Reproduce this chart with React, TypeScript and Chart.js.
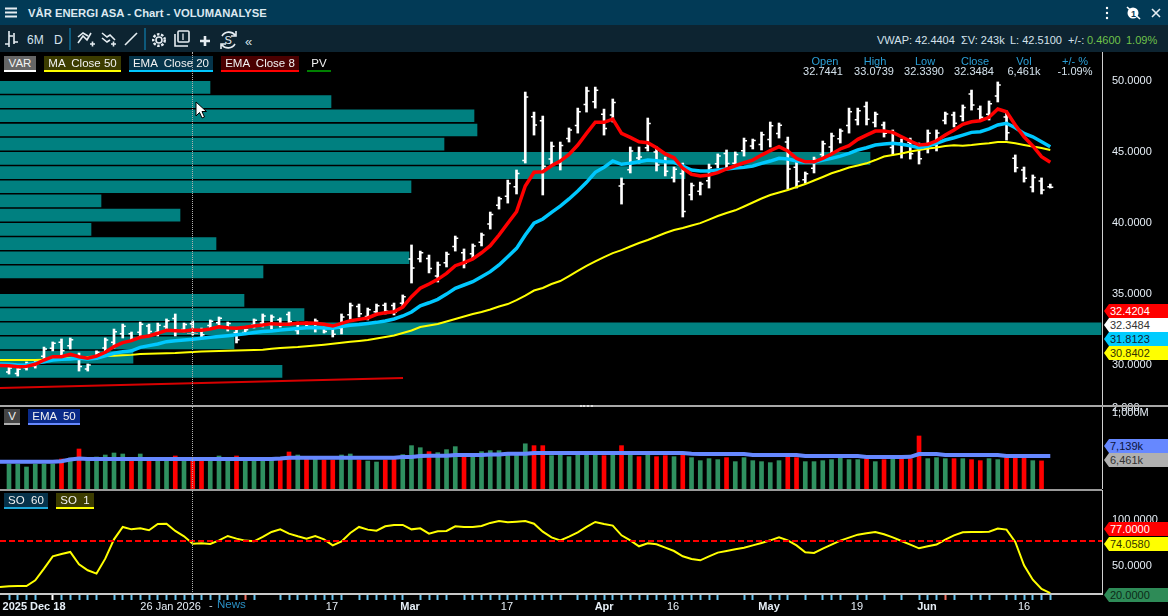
import React, { useEffect, useRef } from "react";
import Chart from "chart.js/auto";

const highs = [29.85,29.78,30.21,30.35,31.26,31.62,31.83,31.90,30.84,30.07,30.99,31.90,32.53,32.88,32.32,33.02,32.88,32.95,33.24,33.59,32.95,33.10,32.60,33.17,33.38,33.02,32.46,32.53,33.24,33.59,33.52,33.31,33.73,33.02,33.02,33.24,32.67,32.74,33.59,34.36,34.29,34.01,34.29,34.36,34.36,34.93,38.45,38.02,37.74,37.25,37.95,39.08,38.17,38.52,39.29,40.77,41.83,43.02,43.73,49.22,47.81,47.53,45.70,45.70,46.69,48.09,49.57,49.57,48.02,48.73,43.17,45.35,45.35,47.39,45.35,44.64,43.94,44.22,42.81,42.88,44.15,44.86,45.14,45.00,45.98,45.91,46.40,47.11,47.04,46.05,44.29,43.59,44.64,45.77,46.33,46.62,48.09,48.09,48.52,47.81,47.11,46.55,45.91,45.98,45.63,46.55,46.55,47.81,47.81,48.31,49.36,48.24,48.59,49.93,47.88,44.79,43.94,43.38,43.17,42.74];
const lows = [29.36,29.22,29.64,29.78,30.35,30.99,30.70,31.12,29.57,29.57,30.42,30.91,31.19,31.90,31.69,31.97,32.18,32.04,32.46,32.04,32.32,32.11,31.97,32.60,32.81,32.39,31.55,32.18,32.60,32.67,32.53,32.67,32.81,32.18,32.60,32.32,32.25,31.97,32.18,33.17,33.38,33.17,33.52,33.59,33.52,34.08,35.77,37.25,36.48,35.84,36.90,38.02,36.83,37.53,38.38,39.57,40.98,41.40,42.04,44.22,46.19,41.97,44.08,43.73,45.70,46.33,47.81,48.09,46.19,47.11,41.33,43.52,44.22,45.07,43.66,43.31,42.88,40.42,41.62,41.97,42.46,43.87,43.87,43.87,44.71,45.21,45.14,45.35,45.98,42.39,42.46,42.81,43.52,44.43,44.93,45.63,46.33,46.90,46.90,46.76,46.05,44.79,44.57,44.50,44.15,44.93,45.07,46.97,46.76,47.18,47.95,47.18,47.25,48.52,45.84,43.59,42.88,42.18,42.04,42.46];
const opens = [29.5,29.4,29.8,29.95,30.62,31.18,31.6,31.35,30.6,29.72,30.6,31.2,31.6,32.2,32.2,32.3,32.74,32.3,32.7,33.28,32.5,32.9,32.47,32.77,32.98,32.58,32.28,32.28,32.79,32.95,32.83,33.18,33.55,32.43,32.94,32.6,32.59,32.59,32.6,33.53,34.11,33.42,33.75,34.21,34.19,34.34,37.46,37.48,37.49,36.26,37.2,38.34,37.9,37.83,38.65,39.93,41.24,41.89,42.55,44.4,47.48,47.2,44.5,44.2,45.95,46.86,48.34,48.53,47.65,47.6,42.6,43.75,44.57,45.3,45.0,44.38,43.2,43.46,41.98,42.24,42.97,44.17,44.89,44.21,45.09,45.42,45.52,45.88,46.3,45.7,43.92,43.04,43.86,44.83,45.35,45.93,46.86,47.26,48.2,47.07,46.9,45.32,45.64,45.68,45.33,45.42,45.51,47.22,47.6,47.52,49.08,48.03,47.65,48.94,47.47,44.55,43.73,42.54,42.95,42.55];
const closes = [29.78,29.7,30.1,30.26,31.12,31.52,31.0,31.78,29.9,30.0,30.9,31.75,32.33,32.73,31.85,32.86,32.35,32.8,33.12,32.43,32.85,32.36,32.13,33.08,33.29,32.92,31.78,32.48,33.14,33.45,33.37,32.83,33.04,32.89,32.71,33.1,32.36,32.16,33.38,34.18,33.61,33.88,34.17,33.78,33.73,34.8,36.83,37.9,36.8,37.04,37.8,38.92,37.17,38.37,39.15,40.59,41.7,42.78,43.48,48.87,46.9,44.0,45.4,45.45,46.54,47.83,49.3,49.35,46.65,48.48,42.75,45.07,44.64,47.0,44.08,43.64,43.78,40.8,42.63,42.74,43.9,44.71,44.19,44.83,45.79,45.8,46.21,46.85,46.88,43.8,42.92,43.47,44.47,45.57,46.12,46.47,47.83,47.91,47.3,47.65,46.32,46.29,44.91,44.87,44.52,46.31,46.33,47.68,47.02,48.14,48.3,47.45,48.39,49.72,46.35,43.89,43.15,43.2,42.32,42.51];

const ema8 = [29.95,29.88,29.90,30.05,30.35,30.58,30.58,30.75,30.58,30.47,30.63,30.89,31.29,31.57,31.71,31.95,32.04,32.23,32.44,32.41,32.39,32.46,32.44,32.53,32.69,32.62,32.58,32.65,32.74,32.81,32.91,32.86,32.86,32.93,32.95,32.93,32.86,32.74,32.93,33.12,33.21,33.31,33.57,33.68,33.75,34.08,34.81,35.40,35.70,36.03,36.45,36.99,37.20,37.46,37.90,38.40,39.15,39.98,40.79,42.60,43.57,43.61,44.03,44.36,44.83,45.49,46.31,47.09,47.09,47.32,46.31,46.03,45.72,45.65,45.30,44.86,44.59,43.85,43.43,43.31,43.38,43.54,43.80,44.03,44.24,44.43,44.78,45.09,45.37,45.07,44.55,44.31,44.31,44.55,44.86,45.21,45.44,45.89,46.19,46.47,46.47,46.38,46.07,45.77,45.49,45.54,45.79,46.19,46.55,46.95,47.13,47.20,47.44,48.02,47.83,46.90,46.07,45.42,44.67,44.27];
const ema20 = [30.05,30.0,30.0,30.12,30.23,30.35,30.40,30.42,30.47,30.42,30.47,30.65,30.82,30.93,31.0,31.24,31.36,31.48,31.64,31.71,31.76,31.81,31.88,31.95,32.0,32.06,32.12,32.19,32.28,32.35,32.39,32.46,32.52,32.57,32.62,32.63,32.60,32.58,32.71,32.80,32.85,32.92,33.0,33.10,33.24,33.45,33.73,34.17,34.38,34.62,34.99,35.40,35.63,35.86,36.21,36.57,37.04,37.62,38.21,39.15,39.98,40.28,40.75,41.19,41.69,42.25,42.86,43.57,43.92,44.36,44.13,44.20,44.31,44.43,44.38,44.31,44.27,44.01,43.73,43.66,43.66,43.73,43.80,43.87,43.92,44.01,44.20,44.36,44.55,44.50,44.36,44.27,44.27,44.43,44.55,44.71,44.90,45.14,45.30,45.49,45.56,45.61,45.54,45.44,45.30,45.42,45.61,45.84,46.0,46.19,46.38,46.43,46.62,46.90,47.02,46.71,46.31,46.07,45.72,45.37];
const ma50 = [30.35,30.35,30.35,30.35,30.37,30.40,30.45,30.49,30.52,30.56,30.60,30.63,30.64,30.68,30.71,30.77,30.79,30.81,30.83,30.84,30.87,30.91,30.95,30.97,30.98,31.0,31.02,31.03,31.05,31.07,31.14,31.19,31.23,31.26,31.32,31.37,31.43,31.49,31.56,31.63,31.69,31.76,31.86,31.97,32.07,32.25,32.43,32.67,32.78,32.88,33.06,33.24,33.41,33.59,33.73,33.91,34.12,34.29,34.57,34.89,35.24,35.42,35.70,35.91,36.26,36.62,36.97,37.29,37.60,37.88,38.09,38.34,38.59,38.80,39.05,39.29,39.50,39.64,39.82,39.99,40.24,40.49,40.70,40.89,41.16,41.44,41.72,41.97,42.14,42.32,42.53,42.74,42.99,43.24,43.50,43.69,43.90,44.05,44.20,44.43,44.68,44.79,44.89,45.03,45.14,45.24,45.31,45.42,45.47,45.44,45.49,45.56,45.61,45.70,45.70,45.61,45.49,45.38,45.28,45.14];

const profileLevels = [49.55,48.55,47.55,46.55,45.55,44.55,43.55,42.55,41.55,40.55,39.55,38.55,37.55,36.55,34.55,33.55,32.55,31.55,30.55,29.55];
const profileVolumes = [210,331,474,477,444,870,685,411,101,180,91,216,409,263,244,304,1101,234,133,282];

const trendX = [-1.03, 45.03];
const trendY = [28.38, 29.08];

const volumes = [5750,5750,5060,5750,5750,5750,6900,7130,9200,6670,7360,7820,8280,8050,6670,8050,6670,6670,6670,7590,6670,6670,6670,6670,7590,6670,7590,6670,6670,6670,6670,6670,8510,7820,7130,6900,6670,6670,7820,8050,6670,6440,6210,6670,7130,7900,9970,9500,8590,8360,9050,9740,7900,7900,8590,8820,8820,8130,7900,10400,9970,9970,7670,8130,7440,8280,8280,8280,7670,8280,9970,8280,7440,8280,7440,7670,7440,8280,7210,6520,6980,6750,7210,6290,7210,6520,6290,6060,6520,7440,7210,6290,6290,6520,6750,7210,6750,6750,6980,6290,6750,6980,6980,6980,12190,6980,7210,6980,6980,6980,6750,6520,6980,6750,7210,7440,7210,6520,6461];
const volumeDirections = ("ggggggrgrgggggrgrggrgrrgggrggggrrgrgrrggrggrr" + "gggrgggrgggggggrrggggggrgrgrgrrgrggggr" + "ggggggrrgggggggrgrgrrrgggrgrrggrrrgr").split("");
const volumeEma = [6280,6280,6280,6280,6280,6280,6400,6800,7000,6900,6900,6900,6900,6900,6900,6900,6900,6900,6900,6900,6900,6900,6900,6900,6900,6900,6900,6900,6900,6900,6900,7000,7200,7200,7200,7200,7200,7200,7200,7200,7200,7200,7200,7200,7200,7360,7360,7590,7660,7660,7660,7820,7820,7820,7820,7950,7950,8120,8120,8120,8280,8280,8280,8280,8280,8280,8280,8280,8280,8280,8280,8280,8280,8280,8280,8280,8280,8280,8120,8050,8050,8050,8050,8050,8050,7820,7820,7820,7820,7820,7820,7590,7590,7590,7590,7590,7590,7590,7360,7360,7360,7360,7360,7400,8050,8050,8050,7820,7820,7820,7820,7820,7820,7820,7590,7590,7590,7590,7590,7590];

const so1 = [28.3,28.6,28.6,34.7,47.3,60.5,63,65.2,51.9,45.5,41.9,58,78.8,92.1,89.5,90.6,88.5,95.3,95.6,87.8,82,74.1,74.5,73.8,77.7,82.4,79.5,77.4,76.6,81.3,86.7,89.5,84.9,82,79.5,82.4,78.8,72.3,76.6,85.6,92.1,89.2,88.1,92.8,94.2,94.2,89.5,90.6,84.9,87.4,87.8,92.8,92.1,92.1,93.1,96.4,98.5,97.1,97.8,98.5,95.6,87,80.9,77.7,81.7,86.3,92.1,97.4,95.3,93.5,83.1,77.7,71.3,74.5,73.4,69.8,66.2,60.5,57.6,56.2,60.5,64.5,66.2,68,69.8,72.3,74.8,77.7,80.9,77.7,72.3,64.8,64.1,68.8,73.1,77.4,80.6,83.8,85.2,86.7,84.2,80.9,77,73.1,69.1,71.3,73.1,78.4,83.1,86.3,86.7,86.7,87,90.3,89.2,75.9,50.8,35.4,25.4,21];
const soLevel = 77;

const leadIn = { ema8: 29.97, ema20: 30.07, ma50: 30.35, volumeEma: 6280, so1: 27.6 };

const priceTicks = [30, 35, 40, 45, 50];
const soTicks = [50, 100];
const tickGaps = [4,11,29,30,39,46,51,64,82,83,86,90,92,96,99,101,103,109,113];
const whiteTicks = [5];
const redTicks = [27, 107];
const dateLabelAt = [2.86,18.47,36.91,45.83,56.91,68.01,75.89,86.86,96.91,104.91,116.01];
const dateLabels = ["2025 Dec 18","26 Jan 2026","17","Mar","17","Apr","16","May","19","Jun","16"];
const boldLabels = ["2025 Dec 18","Mar","Apr","May","Jun"];

const X_MIN = -1.029;
const X_MAX = 124.91;
const FONT = '"Liberation Sans", Arial, sans-serif';

const slots = highs.map((_, i) => i);

const ohlcTicks = {
  id: "ohlcTicks",
  beforeDatasetsDraw(chart: any) {
    const { ctx, scales } = chart;
    ctx.save();
    ctx.strokeStyle = "#ffffff";
    ctx.lineWidth = 1.5;
    slots.forEach((i) => {
      const x = scales.x.getPixelForValue(i);
      const yo = scales.y.getPixelForValue(opens[i]);
      const yc = scales.y.getPixelForValue(closes[i]);
      ctx.beginPath();
      ctx.moveTo(x - 3, yo);
      ctx.lineTo(x, yo);
      ctx.moveTo(x, yc);
      ctx.lineTo(x + 3, yc);
      ctx.stroke();
    });
    ctx.restore();
  },
};

const hiddenX = { type: "linear", display: false, offset: false, min: X_MIN, max: X_MAX, grid: { display: false, offset: false } };
const noPlugins = { legend: { display: false }, tooltip: { enabled: false } };
const fitAxis = (scale: any) => {
  scale.width = 66;
  scale.paddingTop = 0;
  scale.paddingBottom = 0;
};

function line(values: number[], lead: number, color: string, width: number, order = 1) {
  return {
    type: "line",
    data: [{ x: X_MIN, y: lead }, ...values.map((y, x) => ({ x, y }))],
    borderColor: color,
    borderWidth: width,
    pointRadius: 0,
    tension: 0,
    order,
  };
}

function useChart(make: () => any) {
  const ref = useRef<HTMLCanvasElement | null>(null);
  useEffect(() => {
    const chart = new Chart(ref.current as any, make());
    return () => chart.destroy();
  }, []);
  return ref;
}

const profileConfig = () => ({
  type: "bar",
  data: {
    datasets: [{
      data: profileLevels.map((y, i) => ({ x: profileVolumes[i], y })),
      backgroundColor: "#008080",
      borderWidth: 0,
      barThickness: 12,
    }],
  },
  options: {
    indexAxis: "y",
    animation: false,
    responsive: false,
    layout: { padding: 0 },
    plugins: noPlugins,
    scales: {
      x: { type: "linear", display: false, min: 0, max: 1102 },
      y: { type: "linear", display: false, offset: false, min: 27.18, max: 52.04, grid: { display: false, offset: false } },
    },
  },
});

const priceConfig = () => ({
  type: "bar",
  data: {
    datasets: [
      { data: slots.map((x) => ({ x, y: [lows[x], highs[x]] })), backgroundColor: "#ffffff", borderWidth: 0, barThickness: 2, order: 5 },
      { type: "line", data: trendX.map((x, i) => ({ x, y: trendY[i] })), borderColor: "#d80000", borderWidth: 2, pointRadius: 0, order: 4 },
      line(ma50, leadIn.ma50, "#ffff00", 2, 3),
      line(ema20, leadIn.ema20, "#00c8ff", 3.5, 2),
      line(ema8, leadIn.ema8, "#ff0000", 3.5, 1),
    ],
  },
  options: {
    animation: false,
    responsive: false,
    layout: { padding: 0 },
    plugins: noPlugins,
    scales: {
      x: hiddenX,
      y: {
        type: "linear",
        position: "right",
        min: 27.18,
        max: 52.04,
        afterBuildTicks: (s: any) => { s.ticks = priceTicks.map((value) => ({ value })); },
        afterFit: fitAxis,
        grid: { display: false, drawTicks: false },
        border: { color: "#d0d0d0", width: 1 },
        ticks: { padding: 10, color: "#e6eef6", font: { family: FONT, size: 11 }, callback: (v: number) => v.toFixed(4) },
      },
    },
  },
  plugins: [ohlcTicks],
});

const volumeConfig = () => ({
  type: "bar",
  data: {
    datasets: [
      { data: volumes.map((y, x) => ({ x, y })), backgroundColor: volumeDirections.map((d) => (d === "r" ? "#ff0000" : "#2f9060")), borderWidth: 0, barThickness: 4, order: 2 },
      line(volumeEma, leadIn.volumeEma, "#6688ff", 4, 1),
    ],
  },
  options: {
    animation: false,
    responsive: false,
    layout: { padding: 0 },
    plugins: noPlugins,
    scales: {
      x: hiddenX,
      y: {
        type: "linear",
        position: "right",
        min: 0,
        max: 18860,
        afterFit: fitAxis,
        grid: { display: false, drawTicks: false },
        border: { color: "#d0d0d0", width: 1 },
        ticks: { display: false },
      },
    },
  },
});

const axisTicks = [
  ...slots.filter((i) => !tickGaps.includes(i)),
  ...dateLabelAt,
];

const soConfig = () => ({
  type: "line",
  data: {
    datasets: [
      { data: [X_MIN, X_MAX].map((x) => ({ x, y: soLevel })), borderColor: "#ff0000", borderWidth: 2, borderDash: [6, 3], pointRadius: 0, order: 1 },
      line(so1, leadIn.so1, "#ffff00", 2, 2),
    ],
  },
  options: {
    animation: false,
    responsive: false,
    layout: { padding: 0 },
    plugins: noPlugins,
    scales: {
      x: {
        type: "linear",
        min: X_MIN,
        max: X_MAX,
        afterBuildTicks: (s: any) => { s.ticks = axisTicks.map((value) => ({ value })); },
        afterFit: (s: any) => { s.height = 22; s.paddingLeft = 0; s.paddingRight = 0; },
        grid: {
          drawOnChartArea: false,
          tickLength: 6,
          tickWidth: 2,
          tickColor: (c: any) => {
            const v = c.tick.value;
            if (!Number.isInteger(v)) return "rgba(0,0,0,0)";
            if (whiteTicks.includes(v)) return "#ffffff";
            if (redTicks.includes(v)) return "#f07060";
            return "#68c4f0";
          },
        },
        border: { color: "#c8c8c8", width: 2 },
        ticks: {
          autoSkip: false,
          maxRotation: 0,
          padding: 0,
          color: "#e6eef6",
          font: (c: any) => {
            const k = dateLabelAt.indexOf(c.tick?.value);
            const bold = k >= 0 && boldLabels.includes(dateLabels[k]);
            return { family: FONT, size: 11, weight: bold ? "bold" : "normal" };
          },
          callback: (v: number) => {
            const k = dateLabelAt.indexOf(v);
            return k >= 0 ? dateLabels[k] : "";
          },
        },
      },
      y: {
        type: "linear",
        position: "right",
        min: 20,
        max: 131.8,
        afterBuildTicks: (s: any) => { s.ticks = soTicks.map((value) => ({ value })); },
        afterFit: fitAxis,
        grid: { display: false, drawTicks: false },
        border: { color: "#d0d0d0", width: 1 },
        ticks: { padding: 10, color: "#e6eef6", font: { family: FONT, size: 11 }, callback: (v: number) => v.toFixed(4) },
      },
    },
  },
});

const abs = (left: number, top: number, extra: any = {}) => ({ position: "absolute", left, top, ...extra });

const Txt = ({ x, y, c = "#d4e2ec", s = 11, b = false, center = false, children }: any) => (
  <span style={{
    position: "absolute", left: x, top: y - 7, lineHeight: "14px", height: 14, color: c, fontSize: s,
    fontWeight: b ? "bold" : "normal", whiteSpace: "pre", transform: center ? "translateX(-50%)" : undefined,
  }}>{children}</span>
);

const Chip = ({ x, y, w, h = 16, bg, line: l, children, lh = 2 }: any) => (
  <div style={{
    ...(abs(x, y, { width: w, height: h, background: bg, color: "#f2f2f2", fontSize: 11.5, lineHeight: `${h - 1}px`, textAlign: "center", whiteSpace: "pre", boxSizing: "border-box", borderBottom: `${lh}px solid ${l}` }) as any),
  }}>{children}</div>
);

const Tag = ({ y, bg, c, children }: any) => (
  <div style={{
    ...(abs(1104, y, { width: 64, height: 14, background: bg, color: c, fontSize: 11, lineHeight: "14px", paddingLeft: 6, boxSizing: "border-box", clipPath: "polygon(5px 0,100% 0,100% 100%,5px 100%,0 50%)" }) as any),
  }}>{children}</div>
);

const Sep = ({ x }: any) => <div style={abs(x, 28, { width: 1.5, height: 22, background: "#0d5a7c" }) as any} />;

const Icons = () => (
  <svg width={1168} height={52} style={abs(0, 0) as any} fill="none" stroke="#e6edf2" strokeWidth={1.6}>
    <path d="M5 8.5H17M5 12.5H17M5 16.5H17" strokeWidth={1.8} />
    <path d="M9 31V47M9 44H5M9 36H13M14 33V44M14 42H18" />
    <path d="M78 43L83 36L87 40L91 33M78 37L83 33L88 36M90 44h5M92.5 41.5v5" />
    <path d="M102 33L107 37L110 35L115 40M102 38L107 42L110 40M111 44h5M113.5 41.5v5" />
    <path d="M125 45L137 33" />
    <circle cx={159} cy={40} r={3} />
    <circle cx={159} cy={40} r={5.8} strokeWidth={2.4} strokeDasharray="2.5 1.6" />
    <rect x={178} y={31} width={11} height={11} rx={1} />
    <path d="M175 34V46H188" />
    <path d="M183 33.5V40" strokeWidth={1.3} />
    <path d="M200 41H210M205 36V46" strokeWidth={2.6} />
    <path d="M222 36A8 8 0 0 1 235 35M235 44A8 8 0 0 1 222 45M236 31V36H231M221 49V44H226" />
    <text x={224.5} y={44} fontSize={11} fill="#e6edf2" stroke="none" fontFamily={FONT}>S</text>
    <text x={245} y={46} fontSize={13} fill="#d4e2ec" stroke="none" fontFamily={FONT}>«</text>
    <circle cx={1107} cy={8} r={1.2} fill="#fff" stroke="none" />
    <circle cx={1107} cy={13} r={1.2} fill="#fff" stroke="none" />
    <circle cx={1107} cy={18} r={1.2} fill="#fff" stroke="none" />
    <circle cx={1133} cy={13} r={5.5} fill="#fff" stroke="none" />
    <path d="M1127 7L1140 19" stroke="#fff" strokeWidth={1.6} />
    <text x={1131} y={17} fontSize={9} fontWeight="bold" fill="#0a3a55" stroke="none" fontFamily={FONT}>1</text>
    <path d="M1152 9L1160 17M1160 9L1152 17" strokeWidth={1.6} />
  </svg>
);

export default function App() {
  const profileRef = useChart(profileConfig);
  const priceRef = useChart(priceConfig);
  const volumeRef = useChart(volumeConfig);
  const soRef = useChart(soConfig);

  useEffect(() => {
    document.body.style.margin = "0";
    document.body.style.background = "#000";
  }, []);

  return (
    <div style={{ position: "relative", width: 1168, height: 616, background: "#000", overflow: "hidden", fontFamily: FONT }}>
      <div style={abs(0, 0, { width: 1168, height: 25, background: "#023a56" }) as any} />
      <div style={abs(0, 25, { width: 1168, height: 27, background: "#0d2431" }) as any} />
      <Icons />
      <Txt x={28} y={13} b s={11.25} c="#dce8f0">VÅR ENERGI ASA - Chart - VOLUMANALYSE</Txt>
      <Txt x={27} y={40} s={12}>6M</Txt>
      <Txt x={54} y={40} s={12}>D</Txt>
      <Sep x={69} />
      <Sep x={144} />
      <Txt x={877} y={40}>VWAP: 42.4404</Txt>
      <Txt x={961} y={40}>ΣV: 243k</Txt>
      <Txt x={1010} y={40}>L: 42.5100</Txt>
      <Txt x={1068} y={40}>+/-:</Txt>
      <Txt x={1087} y={40} c="#6fc24a">0.4600</Txt>
      <Txt x={1126} y={40} c="#6fc24a">1.09%</Txt>

      <canvas ref={profileRef} width={1102} height={353} style={abs(0, 52, { display: "block" }) as any} />
      <canvas ref={priceRef} width={1168} height={353} style={abs(0, 52, { display: "block" }) as any} />
      <canvas ref={volumeRef} width={1168} height={82} style={abs(0, 407, { display: "block" }) as any} />
      <canvas ref={soRef} width={1168} height={126} style={abs(0, 490, { display: "block" }) as any} />

      <Chip x={4} y={56} w={32} bg="#666666" line="#ffffff">VAR</Chip>
      <Chip x={44} y={56} w={77} bg="#3c3c00" line="#ffff00">MA  Close 50</Chip>
      <Chip x={129} y={56} w={84} bg="#05344a" line="#00c8ff">EMA  Close 20</Chip>
      <Chip x={221} y={56} w={78} bg="#4a0000" line="#ff0000">EMA  Close 8</Chip>
      <Chip x={307} y={56} w={24} bg="#000000" line="#008000">PV</Chip>
      <Chip x={4} y={409} w={16} bg="#444444" line="#b0b0b0">V</Chip>
      <Chip x={28} y={409} w={52} bg="#0a2a88" line="#6688ff">EMA  50</Chip>
      <Chip x={4} y={493} w={44} bg="#06324a" line="#1ea7d8">SO  60</Chip>
      <Chip x={56} y={493} w={38} bg="#3c3c00" line="#ffff00">SO  1</Chip>

      <Txt x={825} y={61} center c="#2a9fd6">Open</Txt>
      <Txt x={823} y={71} center>32.7441</Txt>
      <Txt x={875} y={61} center c="#2a9fd6">High</Txt>
      <Txt x={874} y={71} center>33.0739</Txt>
      <Txt x={925} y={61} center c="#2a9fd6">Low</Txt>
      <Txt x={924} y={71} center>32.3390</Txt>
      <Txt x={975} y={61} center c="#2a9fd6">Close</Txt>
      <Txt x={974} y={71} center>32.3484</Txt>
      <Txt x={1024} y={61} center c="#2a9fd6">Vol</Txt>
      <Txt x={1024} y={71} center>6,461k</Txt>
      <Txt x={1075} y={61} center c="#2a9fd6">+/- %</Txt>
      <Txt x={1075} y={71} center>-1.09%</Txt>

      <Tag y={304} bg="#ff0000" c="#ffffff">32.4204</Tag>
      <Tag y={318} bg="#ffffff" c="#333333">32.3484</Tag>
      <Tag y={332} bg="#00ccff" c="#123">31.8123</Tag>
      <Tag y={346} bg="#ffff00" c="#333300">30.8402</Tag>
      <Tag y={439} bg="#6688ff" c="#0a1440">7,139k</Tag>
      <Tag y={453} bg="#b0b0b0" c="#333333">6,461k</Tag>
      <Tag y={522} bg="#ff0000" c="#ffffff">77.0000</Tag>
      <Tag y={537} bg="#ffff00" c="#333300">74.0580</Tag>
      <Tag y={588} bg="#2e8b57" c="#0c2a18">20.0000</Tag>

      <Txt x={1112} y={407} c="#e6eef6">2,000</Txt>
      <Txt x={1112} y={412} c="#e6eef6">1,000M</Txt>

      <div style={abs(0, 405, { width: 1168, height: 2, background: "#a8a8a8" }) as any} />
      <div style={abs(580, 405, { width: 13, height: 2, borderTop: "2px dotted #e0e0e0", boxSizing: "border-box" }) as any} />
      <div style={abs(0, 489, { width: 1102, height: 1.5, background: "#9a9a9a" }) as any} />
      <div style={abs(192, 52, { width: 0, height: 542, borderLeft: "1px dotted #b0b0b0" }) as any} />
      <div style={abs(187, 333, { width: 11, height: 1, background: "#a0a0a0" }) as any} />
      <svg width={14} height={20} style={abs(195, 101) as any}>
        <path d="M1 1V15L4.5 11.5L7 17L9.5 16L7 10.5H11.5Z" fill="#fff" stroke="#000" strokeWidth={1} />
      </svg>

      <Txt x={209} y={605} c="#c8d4dc">-</Txt>
      <Txt x={217} y={604} c="#2a8fc4" s={11.5}>News</Txt>
    </div>
  );
}
